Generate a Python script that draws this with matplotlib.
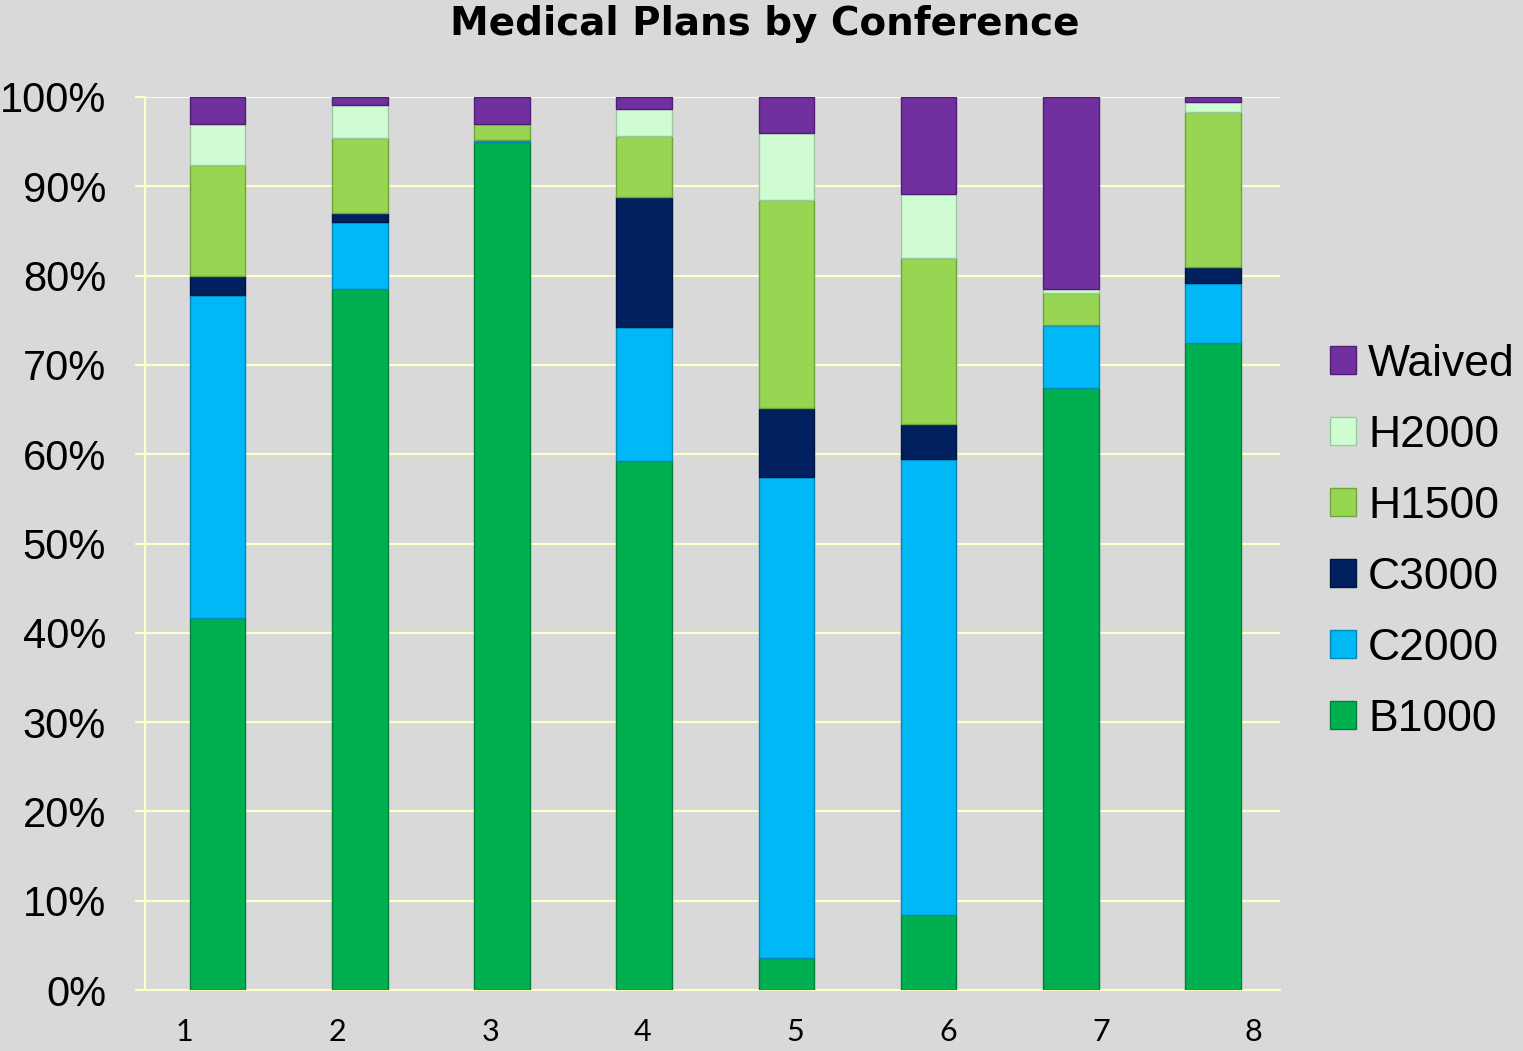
import matplotlib
matplotlib.use("Agg")
import matplotlib.pyplot as plt
import numpy as np

# conference numbers and plan shares (%)
conferences = ["1", "2", "3", "4", "5", "6", "7", "8"]
b1000 = [41.7, 78.5, 95.0, 59.2, 3.6, 8.4, 67.4, 72.5]
c2000 = [36.1, 7.5, 0.2, 15.0, 53.8, 51.1, 7.1, 6.7]
c3000 = [2.2, 1.0, 0.0, 14.6, 7.8, 3.9, 0.0, 1.8]
h1500 = [12.4, 8.4, 1.8, 6.8, 23.3, 18.6, 3.5, 17.3]
h2000 = [4.6, 3.7, 0.0, 3.1, 7.5, 7.1, 0.5, 1.1]
waived = [3.0, 0.9, 3.0, 1.3, 4.0, 10.9, 21.5, 0.6]

series = [("B1000", b1000, "#00B050", "#00803a"),
          ("C2000", c2000, "#00B8F5", "#0088b8"),
          ("C3000", c3000, "#002060", "#001440"),
          ("H1500", h1500, "#98D552", "#6fa63a"),
          ("H2000", h2000, "#D0FCD4", "#9cc8a0"),
          ("Waived", waived, "#7030A0", "#4e1f72")]

bg = "#D9D9D9"
grid = "#FFFFC8"

fig = plt.figure(figsize=(15.23, 10.51), dpi=100, facecolor=bg)
ax = fig.add_axes([145/1523, 1-990/1051, (1280-145)/1523, (990-97)/1051])
ax.set_facecolor(bg)

x = np.arange(1, len(conferences) + 1)
bottom = np.zeros(len(x))
handles = []
for name, vals, col, edge in series:
    v = np.array(vals)
    h = ax.bar(x, v, width=0.39, bottom=bottom, color=col, edgecolor=edge,
               linewidth=1.0, label=name, zorder=3)
    handles.append(h)
    bottom += v

ax.set_ylim(0, 100)
ax.set_xlim(0.49, 8.47)
ax.set_yticks(np.arange(0, 101, 10))
ax.set_yticklabels([f"{t}%" for t in range(0, 101, 10)], fontsize=30,
                   family="Liberation Sans")
# the category labels sit a little off the bar centres in the original
ax.set_xticks(0.768 + 1.074 * (x - 1))
ax.set_xticklabels(conferences, fontsize=22, family="Lato")
ax.tick_params(axis="x", length=0, pad=20)
ax.tick_params(axis="y", length=7, color=grid, width=1.5, pad=21)
ax.yaxis.grid(True, color=grid, linewidth=1.5, zorder=0)
ax.set_axisbelow(True)
for s in ["top", "right"]:
    ax.spines[s].set_visible(False)
for s in ["left", "bottom"]:
    ax.spines[s].set_color(grid)
    ax.spines[s].set_linewidth(1.5)

fig.text(765/1523, 1-24/1051, "Medical Plans by Conference", ha="center",
         va="center", fontsize=28, fontweight="bold")

leg = fig.legend(handles[::-1], [s[0] for s in series][::-1],
                 loc="center left", bbox_to_anchor=(1330/1523, 1-542/1051),
                 frameon=False, prop={"family": "Liberation Sans", "size": 32},
                 handlelength=0.58, handleheight=0.58, borderpad=0,
                 borderaxespad=0, handletextpad=0.28, labelspacing=0.675)

fig.savefig("out.png", dpi=100, facecolor=bg)
